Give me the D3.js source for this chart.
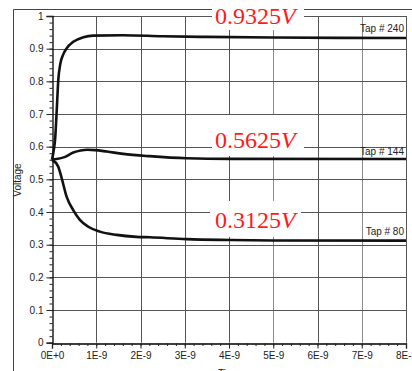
<!DOCTYPE html>
<html>
<head>
<meta charset="utf-8">
<script src="https://cdn.jsdelivr.net/npm/d3@7/dist/d3.min.js"></script>
<style>
html,body{margin:0;padding:0;background:#fff;}
svg{display:block;}
</style>
</head>
<body>
<script>
// ---- data (time in ns, voltage in V) ----
const tap240T = [0, 0.04, 0.07, 0.11, 0.14, 0.19, 0.25, 0.33, 0.48, 0.71, 0.93, 1.6, 2.5, 3.5, 5, 6.5, 8];
const tap240V = [0.56, 0.59, 0.622, 0.72, 0.80, 0.855, 0.881, 0.901, 0.921, 0.935, 0.940, 0.941, 0.938, 0.936, 0.934, 0.933, 0.9325];
const tap144T = [0, 0.1, 0.28, 0.48, 0.65, 0.8, 0.97, 1.24, 1.61, 2.2, 3.04, 4.02, 8];
const tap144V = [0.56, 0.562, 0.568, 0.582, 0.5885, 0.5905, 0.5895, 0.585, 0.578, 0.571, 0.5645, 0.5627, 0.5625];
const tap80T = [0, 0.14, 0.22, 0.33, 0.48, 0.63, 0.82, 1.08, 1.46, 1.91, 2.21, 3.04, 4.02, 5, 8];
const tap80V = [0.56, 0.539, 0.503, 0.447, 0.406, 0.376, 0.355, 0.340, 0.330, 0.324, 0.3226, 0.317, 0.3144, 0.313, 0.3125];
const seriesNames = ["Tap # 240", "Tap # 144", "Tap # 80"];
const finalValues = [0.9325, 0.5625, 0.3125];
const valueLabels = ["0.9325V", "0.5625V", "0.3125V"];
const xTickLabels = ["0E+0", "1E-9", "2E-9", "3E-9", "4E-9", "5E-9", "6E-9", "7E-9", "8E-9"];
const yTickValues = [0, 0.1, 0.2, 0.3, 0.4, 0.5, 0.6, 0.7, 0.8, 0.9, 1];
const yTickLabels = ["0", "0.1", "0.2", "0.3", "0.4", "0.5", "0.6", "0.7", "0.8", "0.9", "1"];

const W = 412, H = 371;
const svg = d3.select("body").append("svg").attr("width", W).attr("height", H);
svg.append("rect").attr("width", W).attr("height", H).attr("fill", "#fff");

const x = d3.scaleLinear().domain([0, 8]).range([52, 406]);
const y = d3.scaleLinear().domain([0, 1]).range([342.7, 16]);

// outer frame
svg.append("line").attr("x1", 13.5).attr("x2", 13.5).attr("y1", 9.5).attr("y2", H).attr("stroke", "#444");
svg.append("line").attr("x1", 13.5).attr("x2", W).attr("y1", 9.5).attr("y2", 9.5).attr("stroke", "#444");

// grid
const grid = svg.append("g");
grid.selectAll(".gx").data(d3.range(1, 9)).join("line")
  .attr("x1", d => Math.round(x(d)) + 0.5).attr("x2", d => Math.round(x(d)) + 0.5)
  .attr("y1", y(1)).attr("y2", y(0))
  .attr("stroke", d => (d === 5 || d === 7) ? "#8a8a8a" : "#555").attr("stroke-width", 1);
grid.selectAll(".gy").data(yTickValues.slice(1)).join("line")
  .attr("x1", x(0)).attr("x2", x(8))
  .attr("y1", d => Math.round(y(d)) + 0.5).attr("y2", d => Math.round(y(d)) + 0.5)
  .attr("stroke", "#555").attr("stroke-width", 1);

// axes
const font = "Liberation Sans, Arial, Helvetica, sans-serif";
const xAxis = d3.axisBottom(x).tickValues(d3.range(0, 9)).tickSize(5).tickPadding(3)
  .tickFormat((d, i) => xTickLabels[i]);
svg.append("g").attr("transform", `translate(0,${Math.round(y(0)) + 0.5})`).call(xAxis);
const xMinor = d3.axisBottom(x).tickValues(d3.range(0, 8.01, 0.2)).tickSize(2.5).tickFormat("");
svg.append("g").attr("transform", `translate(0,${Math.round(y(0)) + 0.5})`).call(xMinor).select(".domain").remove();

const yAxis = d3.axisLeft(y).tickValues(yTickValues).tickSize(6).tickPadding(3)
  .tickFormat((d, i) => yTickLabels[i]);
svg.append("g").attr("transform", `translate(${x(0) + 0.5},0)`).call(yAxis);
const yMinor = d3.axisLeft(y).tickValues(d3.range(0, 1.001, 0.02)).tickSize(3).tickFormat("");
svg.append("g").attr("transform", `translate(${x(0) + 0.5},0)`).call(yMinor).select(".domain").remove();

svg.selectAll(".domain").attr("stroke", "#000").attr("stroke-width", 1.3);
svg.selectAll(".tick line").attr("stroke", "#222");
svg.selectAll(".tick text").attr("font-family", font).attr("font-size", 10).attr("fill", "#222");

// axis titles
svg.append("text").attr("x", 229).attr("y", 377).attr("text-anchor", "middle")
  .attr("font-family", font).attr("font-size", 10).attr("fill", "#222").text("Time");
svg.append("text").attr("transform", "translate(21,180) rotate(-90)").attr("text-anchor", "middle")
  .attr("font-family", font).attr("font-size", 10).attr("fill", "#222").text("Voltage");

// curves
const series = [[tap240T, tap240V], [tap144T, tap144V], [tap80T, tap80V]];
const line = d3.line().x(d => x(d[0])).y(d => y(d[1])).curve(d3.curveMonotoneX);
series.forEach(([ts, vs]) => {
  svg.append("path").datum(ts.map((t, i) => [t, vs[i]]))
    .attr("d", line).attr("fill", "none").attr("stroke", "#111").attr("stroke-width", 2.6)
    .attr("stroke-linejoin", "round");
});

// tap labels
const tapOffsets = [6, 4, 5.5];
seriesNames.forEach((n, i) => {
  svg.append("text").attr("x", 404).attr("y", y(finalValues[i]) - tapOffsets[i])
    .attr("text-anchor", "end").attr("font-family", font).attr("font-size", 10).attr("fill", "#222").text(n);
});

// red value labels with white boxes
const labelOffsets = [14, 11, 12.6];
const boxes = [[212, 0, 92, 30], [212, 115, 92, 41], [210, 201, 91, 36]];
valueLabels.forEach((lab, i) => {
  const b = boxes[i];
  svg.append("rect").attr("x", b[0]).attr("y", b[1]).attr("width", b[2]).attr("height", b[3]).attr("fill", "#fff");
  const t = svg.append("text").attr("x", 215).attr("y", y(finalValues[i]) - labelOffsets[i])
    .attr("font-family", "Liberation Serif, Times New Roman, serif").attr("font-size", 24).attr("fill", "#ff1a1a");
  t.append("tspan").text(lab.slice(0, -1));
  t.append("tspan").attr("font-style", "italic").text("V");
});
</script>
</body>
</html>
